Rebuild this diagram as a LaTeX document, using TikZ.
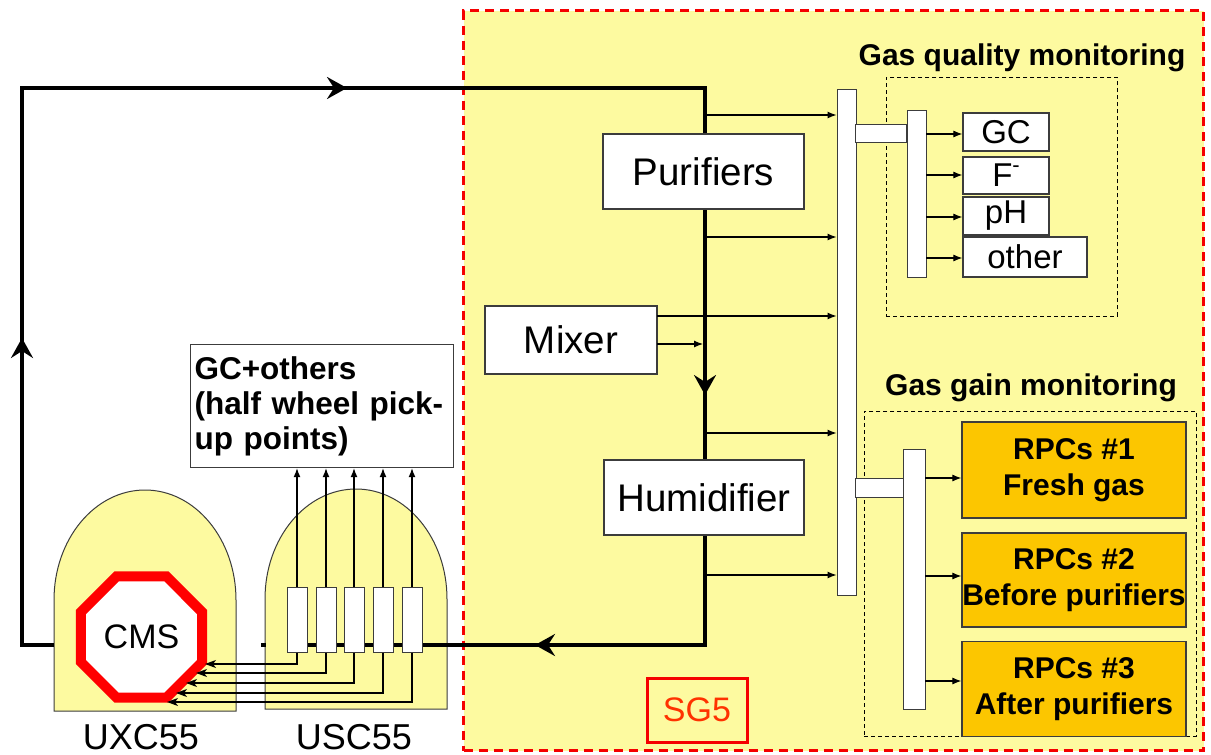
\documentclass[tikz,border=0pt]{standalone}
\usepackage{fontspec}
\setmainfont{Liberation Sans}
\usetikzlibrary{arrows.meta,shapes.geometric,decorations.markings,calc}
\definecolor{sgyellow}{RGB}{253,250,160}
\definecolor{rpcgold}{RGB}{252,198,0}
\definecolor{boxline}{RGB}{60,60,60}
\definecolor{sgred}{RGB}{245,0,0}
\definecolor{sgtext}{RGB}{255,50,0}
\newcommand{\myfs}[2]{\fontsize{#1}{#2}\selectfont}
\tikzset{flowtip/.tip={Stealth[length=20pt,width=22pt,inset=7pt]}}
\begin{document}
\begin{tikzpicture}[x=1pt,y=-1pt,
  wbox/.style={draw=boxline, line width=1.2pt, fill=white, inner sep=0pt},
  bigbox/.style={wbox, font=\myfs{38.5}{40}},
  smallbox/.style={wbox, font=\myfs{33}{35}},
  rpcbox/.style={draw=boxline, line width=1.2pt, fill=rpcgold, inner sep=0pt,
     minimum width=224pt, align=center, font=\bfseries\myfs{30}{36}},
  barbox/.style={wbox, line width=1pt},
  monbox/.style={draw=black, line width=0.9pt, dash pattern=on 4pt off 3pt, inner sep=0pt},
  thinarrow/.style={line width=1.1pt, -{Latex[length=9pt,width=7pt]}},
  cmsarrow/.style={line width=1.1pt, -{Stealth[length=11pt,width=8pt,inset=3pt]}},
  pipe/.style={line width=4pt},
  dome/.style={draw=boxline, line width=1pt, fill=sgyellow},
  title/.style={font=\bfseries\myfs{30}{30}, anchor=base, inner sep=0pt},
  place/.style={font=\myfs{36}{36}, anchor=base, inner sep=0pt}
]
\useasboundingbox (0,0) rectangle (1211,755);
\fill[white] (0,0) rectangle (1211,755);

% SG5 area
\node[draw=sgred, line width=3pt, dash pattern=on 9pt off 6pt, fill=sgyellow,
      minimum width=740pt, minimum height=740pt, anchor=north west, inner sep=0pt] (sg) at (462,9) {};

% domes
\path[dome] (54,711) -- (54,600) arc[start angle=180, end angle=0, x radius=91pt, y radius=110pt]
   -- (236,711) -- cycle;
\path[dome] (265,709) -- (265,599) arc[start angle=180, end angle=0, x radius=91pt, y radius=110pt]
   -- (447,709) -- cycle;
\node[place] (uxc) at (141,749) {UXC55};
\node[place] (usc) at (354,749) {USC55};

% monitoring dashed boxes
\node[monbox, minimum width=231pt, minimum height=239pt, anchor=north west] (qmon) at (886,77) {};
\node[monbox, minimum width=332pt, minimum height=325pt, anchor=north west] (gmon) at (864,411) {};
\node[title] (qtitle) at (1022,65) {Gas quality monitoring};
\node[title] (gtitle) at (1031,395) {Gas gain monitoring};

% main loop
\coordinate (L0) at (54,645);
\coordinate (L1) at (22,645);
\coordinate (L2) at (22,88);
\coordinate (L3) at (705,88);
\coordinate (L4) at (705,645);
\coordinate (L5) at (287,645);
\draw[pipe, line join=miter, postaction={decorate}, decoration={markings,
   mark=at position 339pt with {\arrow{flowtip}},
   mark=at position 914pt with {\arrow{flowtip}},
   mark=at position 1579pt with {\arrow{flowtip}},
   mark=at position 1999pt with {\arrow{flowtip}}}]
   (L0) -- (L1) -- (L2) -- (L3) -- (L4) -- (L5);
\coordinate (D0) at (261,645);
\coordinate (D1) at (266,645);
\draw[pipe] (D0) -- (D1);

% process boxes
\node[bigbox, minimum width=201pt, minimum height=75pt] (pur) at (703.5,171.5) {Purifiers};
\node[bigbox, minimum width=172pt, minimum height=68pt] (mix) at (571,340) {Mixer};
\node[bigbox, minimum width=200pt, minimum height=75pt] (hum) at (704,497.5) {Humidifier};

% main manifold bar
\node[barbox, minimum width=19pt, minimum height=506pt] (bar) at (846.5,342.5) {};

% taps from loop to bar
\coordinate (t1) at (705,115);
\coordinate (t2) at (705,237);
\coordinate (t3) at (657,316);
\coordinate (t4) at (705,433);
\coordinate (t5) at (705,575);
\coordinate (m1) at (657,344);
\coordinate (m2) at (703,344);
\draw[thinarrow] (t1) -- (t1 -| bar.west);
\draw[thinarrow] (t2) -- (t2 -| bar.west);
\draw[thinarrow] (t3) -- (t3 -| bar.west);
\draw[thinarrow] (t4) -- (t4 -| bar.west);
\draw[thinarrow] (t5) -- (t5 -| bar.west);
\draw[thinarrow] (m1) -- (m2);

% gas quality branch
\node[barbox, minimum width=51pt, minimum height=18pt, anchor=north west] (qcon) at (855,124) {};
\node[barbox, minimum width=19pt, minimum height=167pt] (qbar) at (916.5,193.5) {};
\node[smallbox, minimum width=86pt, minimum height=38pt] (gc) at (1006,132) {GC};
\node[smallbox, minimum width=86pt, minimum height=37pt] (fm) at (1006,175.5) {F\raisebox{0.42em}{\myfs{22}{22}-}};
\node[smallbox, minimum width=86pt, minimum height=38pt] (ph) at (1006,216) {pH};
\node[smallbox, minimum width=124pt, minimum height=40pt] (oth) at (1025,257) {other};
\coordinate (q1) at (926,134);
\coordinate (q2) at (926,175);
\coordinate (q3) at (926,217);
\coordinate (q4) at (926,258);
\draw[thinarrow] (q1) -- (q1 -| gc.west);
\draw[thinarrow] (q2) -- (q2 -| fm.west);
\draw[thinarrow] (q3) -- (q3 -| ph.west);
\draw[thinarrow] (q4) -- (q4 -| oth.west);

% gas gain branch
\node[barbox, minimum width=49pt, minimum height=19pt, anchor=north west] (gcon) at (855,478) {};
\node[barbox, minimum width=22pt, minimum height=260pt] (gbar) at (914,579) {};
\node[rpcbox, minimum height=96pt] (rpc1) at (1074,470) {RPCs \#1\\Fresh gas};
\node[rpcbox, minimum height=94pt] (rpc2) at (1074,580) {RPCs \#2\\Before purifiers};
\node[rpcbox, minimum height=95pt] (rpc3) at (1074,689) {RPCs \#3\\After purifiers};
\coordinate (g1) at (925,478);
\coordinate (g2) at (925,576);
\coordinate (g3) at (925,681);
\draw[thinarrow] (g1) -- (g1 -| rpc1.west);
\draw[thinarrow] (g2) -- (g2 -| rpc2.west);
\draw[thinarrow] (g3) -- (g3 -| rpc3.west);

% SG5 label
\node[draw=sgred, line width=3pt, minimum width=100pt, minimum height=64pt, inner sep=0pt,
      text=sgtext, font=\myfs{34}{34}] (sglabel) at (697,710) {SG5};

% GC+others box
\node[wbox, anchor=north west, minimum height=123pt, inner xsep=4pt, text width=255pt,
      align=left, font=\bfseries\myfs{31.5}{35}] (gcother) at (190,344)
      {GC+others\\(half wheel pick-\\up points)};

% CMS octagon
\node[regular polygon, regular polygon sides=8, minimum size=131pt, inner sep=0pt,
      draw=red, line width=10pt, fill=white, font=\myfs{34}{34}] (cms) at (141.5,637) {CMS};

% USC55 pick-up boxes
\foreach \i/\x in {1/297,2/326,3/354,4/383,5/412}{
  \node[barbox, minimum width=20pt, minimum height=65pt] (ub\i) at (\x,619.5) {};
}
\foreach \i in {1,...,5}{
  \draw[thinarrow] (ub\i.north) -- (ub\i.north |- gcother.south);
}
\coordinate (c1) at (205,664);
\coordinate (c2) at (196,673);
\coordinate (c3) at (186,683);
\coordinate (c4) at (176,693);
\coordinate (c5) at (167,702);
\foreach \i in {1,...,5}{
  \draw[cmsarrow] (ub\i.south) |- (c\i);
}
\end{tikzpicture}
\end{document}
